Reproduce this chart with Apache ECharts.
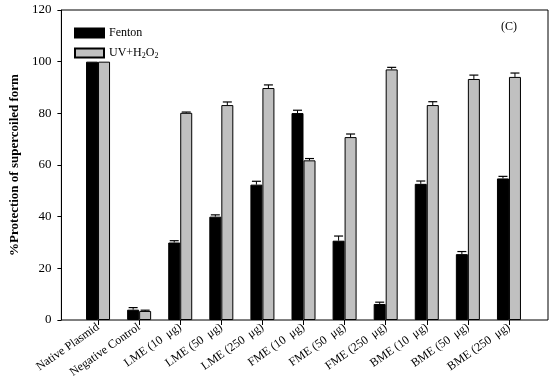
<!DOCTYPE html>
<html><head><meta charset="utf-8">
<script src="https://cdn.jsdelivr.net/npm/echarts@6/dist/echarts.min.js"></script>
<style>html,body{margin:0;padding:0;background:#fff}#c{width:559px;height:383px}</style>
</head><body><div id="c"></div>
<script>
var categories = ['Native Plasmid','Negative Control','LME (10  μg)','LME (50  μg)','LME (250  μg)','FME (10  μg)','FME (50  μg)','FME (250  μg)','BME (10  μg)','BME (50  μg)','BME (250  μg)'];
var fenton    = [100, 4.0, 30.0, 40.0, 52.4, 80.1, 30.7, 6.2, 52.7, 25.5, 54.8];
var fentonErr = [0,   0.8, 0.7,  0.7,  1.3,  1.1,  1.8,  0.7, 1.1,  1.0,  0.8];
var uv        = [100, 3.5, 80.2, 83.2, 89.8, 61.8, 70.8, 97.0, 83.2, 93.3, 94.1];
var uvErr     = [0,   0.3, 0.3,  1.2,  1.2,  0.7,  1.2,  0.8,  1.3,  1.5,  1.5];
var yTicks = [0, 20, 40, 60, 80, 100, 120];

var FONT = '"Liberation Serif", "Times New Roman", serif';
var chart = echarts.init(document.getElementById('c'), null, {renderer:'canvas'});

function errSeries(vals, errs, offset) {
  return {
    type: 'custom', xAxisIndex: 1, yAxisIndex: 1, z: 5,
    data: vals.map(function(v, i){ return [i, v, errs[i]]; }),
    renderItem: function(params, api) {
      var i = api.value(0), v = api.value(1), e = api.value(2);
      if (!e) return null;
      var p0 = api.coord([i, v]);
      var p1 = api.coord([i, v + e]);
      var x = p0[0] + offset;
      var hw = 4.5;
      return {
        type: 'group',
        children: [
          {type:'line', shape:{x1:x, y1:p0[1], x2:x, y2:p1[1]}, style:{stroke:'#000', lineWidth:1}},
          {type:'line', shape:{x1:x-hw, y1:p1[1], x2:x+hw, y2:p1[1]}, style:{stroke:'#000', lineWidth:1.2}}
        ]
      };
    }
  };
}

chart.setOption({
  animation: false,
  backgroundColor: '#fff',
  grid: [
    {left: 59, top: 10, width: 489, height: 310, show: true, borderColor: '#000', borderWidth: 1, backgroundColor: 'transparent'},
    {left: 77.5, top: 10, width: 452, height: 310}
  ],
  legend: {
    orient: 'vertical', left: 69, top: 22, itemWidth: 29, itemHeight: 9, itemGap: 8, icon: 'rect',
    textStyle: {fontFamily: FONT, fontSize: 12, color: '#000',
      rich: {n: {fontFamily: FONT, fontSize: 12, color:'#000'}, s: {fontFamily: FONT, fontSize: 8, color:'#000', padding:[6,0,0,0]}}},
    formatter: function(name){ return name === 'UV+H2O2' ? '{n|UV+H}{s|2}{n|O}{s|2}' : name; },
    data: ['Fenton', 'UV+H2O2']
  },
  xAxis: [
    {gridIndex: 0, type: 'value', min: 0, max: 1, show: false},
    {gridIndex: 1, type: 'category', data: categories,
      axisLine: {show: false},
      axisTick: {show: true, alignWithLabel: true, length: 5, lineStyle: {color: '#000'}},
      axisLabel: {rotate: 35, interval: 0, margin: 6, fontFamily: FONT, fontSize: 12, color: '#000'}}
  ],
  yAxis: [
    {gridIndex: 0, type: 'value', min: 0, max: 120, interval: 20,
      name: '%Protection of supercoiled form', nameLocation: 'middle', nameGap: 38,
      nameTextStyle: {fontFamily: FONT, fontSize: 13, fontWeight: 'bold', color: '#000'},
      axisLine: {show: true, lineStyle: {color: '#000'}},
      axisTick: {show: true, length: 4, lineStyle: {color: '#000'}},
      splitLine: {show: false},
      axisLabel: {fontFamily: FONT, fontSize: 13, color: '#000', margin: 10,
        formatter: function(v){ return yTicks.indexOf(v) >= 0 ? String(v) : ''; }}},
    {gridIndex: 1, type: 'value', min: 0, max: 120, show: false}
  ],
  graphic: [{type: 'text', left: 501, top: 21, style: {text: '(C)', font: '12px ' + FONT, fill: '#000'}}],
  series: [
    {name: 'Fenton', type: 'bar', xAxisIndex: 1, yAxisIndex: 1, data: fenton, barWidth: 12, barGap: '0%',
      itemStyle: {color: '#000', borderColor: '#000', borderWidth: 1}},
    {name: 'UV+H2O2', type: 'bar', xAxisIndex: 1, yAxisIndex: 1, data: uv, barWidth: 12, barGap: '0%',
      itemStyle: {color: '#c0c0c0', borderColor: '#000', borderWidth: 1}},
    errSeries(fenton, fentonErr, -6),
    errSeries(uv, uvErr, 6)
  ]
});
</script></body></html>
